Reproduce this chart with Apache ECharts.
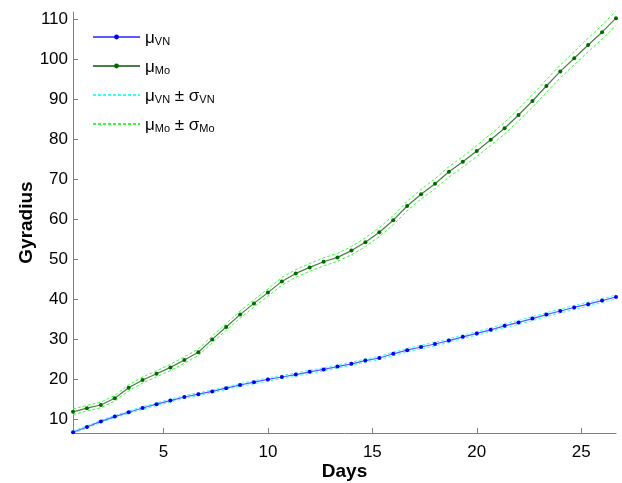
<!doctype html>
<meta charset="utf-8">
<title>Gyradius</title>
<style>
	html, body { margin: 0; padding: 0; background: #fff; }
	#chart { width: 622px; height: 483px; }
</style>
<div id="chart"></div>
<script src="https://cdn.jsdelivr.net/npm/echarts@6/dist/echarts.min.js"></script>
<script>
	// sample times (every 16 hours)
	var days = [0.667, 1.333, 2, 2.667, 3.333, 4, 4.667, 5.333, 6, 6.667,
		7.333, 8, 8.667, 9.333, 10, 10.667, 11.333, 12, 12.667, 13.333,
		14, 14.667, 15.333, 16, 16.667, 17.333, 18, 18.667, 19.333, 20,
		20.667, 21.333, 22, 22.667, 23.333, 24, 24.667, 25.333, 26, 26.667];
	var muVN = [6.7, 8.0, 9.4, 10.6, 11.7, 12.75, 13.7, 14.6, 15.5, 16.2,
		16.9, 17.7, 18.5, 19.2, 19.9, 20.5, 21.1, 21.8, 22.4, 23.1,
		23.8, 24.6, 25.25, 26.3, 27.2, 28.0, 28.75, 29.6, 30.55, 31.4,
		32.3, 33.3, 34.15, 35.1, 36.1, 37.0, 37.9, 38.7, 39.6, 40.5];
	var sdVN = [0.3, 0.3, 0.3, 0.3, 0.3, 0.35, 0.35, 0.35, 0.35, 0.35,
		0.35, 0.35, 0.35, 0.4, 0.4, 0.4, 0.4, 0.4, 0.4, 0.4,
		0.4, 0.4, 0.4, 0.45, 0.45, 0.45, 0.45, 0.45, 0.45, 0.45,
		0.45, 0.5, 0.5, 0.5, 0.5, 0.5, 0.5, 0.5, 0.5, 0.5];
	var muMo = [11.8, 12.7, 13.5, 15.2, 17.8, 19.75, 21.3, 22.9, 24.75, 26.7,
		29.9, 33.0, 36.1, 38.9, 41.6, 44.4, 46.4, 47.9, 49.3, 50.4,
		52.1, 54.2, 56.7, 59.7, 63.25, 66.2, 68.8, 71.8, 74.3, 77.0,
		79.8, 82.7, 86.0, 89.5, 93.25, 96.9, 100.2, 103.5, 106.7, 110.2];
	var sdMo = [0.7, 0.7, 0.7, 0.7, 0.75, 0.75, 0.75, 0.8, 0.8, 0.8,
		0.85, 0.85, 0.9, 0.9, 0.9, 0.95, 0.95, 1.0, 1.0, 1.0,
		1.05, 1.1, 1.1, 1.15, 1.2, 1.2, 1.25, 1.3, 1.3, 1.35,
		1.4, 1.45, 1.5, 1.55, 1.6, 1.6, 1.65, 1.7, 1.75, 1.8];
	var xTicks = [5, 10, 15, 20, 25];
	var yTicks = [10, 20, 30, 40, 50, 60, 70, 80, 90, 100, 110];

	function pairs(ys, sd, sign) {
		return days.map(function (d, i) { return [d, sd ? ys[i] + sign * sd[i] : ys[i]]; });
	}

	var legendText = {
		muVN: '{m|μ}{s|VN}',
		muMo: '{m|μ}{s|Mo}',
		bandVN: '{m|μ}{s|VN}{m| ± σ}{s|VN}',
		bandMo: '{m|μ}{s|Mo}{m| ± σ}{s|Mo}'
	};

	var font = 'Liberation Sans, Arial, sans-serif';
	var axisGray = '#808080';

	var option = {
		animation: false,
		grid: { left: 73, right: 6, top: 12, bottom: 50, outerBoundsMode: 'none' },
		legend: {
			orient: 'vertical',
			left: 92,
			top: 27,
			padding: 0,
			itemWidth: 47,
			itemHeight: 6,
			itemGap: 9,
			data: [
				{ name: 'muVN' },
				{ name: 'muMo' },
				{ name: 'bandVN', itemStyle: { opacity: 0 } },
				{ name: 'bandMo', itemStyle: { opacity: 0 } }
			],
			formatter: function (n) { return legendText[n]; },
			textStyle: {
				fontFamily: font,
				color: '#000',
				rich: {
					m: { fontSize: 17, fontFamily: font, color: '#000', lineHeight: 20, verticalAlign: 'bottom' },
					s: { fontSize: 11, fontFamily: font, color: '#000', lineHeight: 12, padding: [9, 0, 0, 0], verticalAlign: 'bottom' }
				}
			}
		},
		xAxis: {
			type: 'value',
			min: days[0],
			max: days[days.length - 1],
			name: 'Days',
			nameLocation: 'middle',
			nameGap: 29,
			nameMoveOverlap: false,
			nameTextStyle: { fontFamily: font, fontSize: 19, fontWeight: 'bold', color: '#000' },
			axisLine: { lineStyle: { color: axisGray } },
			axisTick: { inside: true, length: 5, lineStyle: { color: axisGray }, customValues: xTicks },
			axisLabel: { fontFamily: font, fontSize: 17, color: '#000', margin: 11, customValues: xTicks },
			splitLine: { show: false }
		},
		yAxis: {
			type: 'value',
			min: 6.5,
			max: 111.75,
			name: 'Gyradius',
			nameLocation: 'middle',
			nameGap: 37,
			nameMoveOverlap: false,
			nameTextStyle: { fontFamily: font, fontSize: 19, fontWeight: 'bold', color: '#000' },
			axisLine: { show: true, lineStyle: { color: axisGray } },
			axisTick: { show: true, inside: true, length: 5, lineStyle: { color: axisGray }, customValues: yTicks },
			axisLabel: { fontFamily: font, fontSize: 17, color: '#000', margin: 5, customValues: yTicks },
			splitLine: { show: false }
		},
		series: [
			{
				name: 'bandVN', type: 'line', data: pairs(muVN, sdVN, 1), symbol: 'none', z: 1,
				lineStyle: { color: '#33ffff', width: 1, type: [3, 2] }, itemStyle: { color: '#33ffff' }
			},
			{
				name: 'bandVN', type: 'line', data: pairs(muVN, sdVN, -1), symbol: 'none', z: 1,
				lineStyle: { color: '#33ffff', width: 1, type: [3, 2] }, itemStyle: { color: '#33ffff' }
			},
			{
				name: 'bandMo', type: 'line', data: pairs(muMo, sdMo, 1), symbol: 'none', z: 1,
				lineStyle: { color: '#33ff33', width: 1, type: [3, 2] }, itemStyle: { color: '#33ff33' }
			},
			{
				name: 'bandMo', type: 'line', data: pairs(muMo, sdMo, -1), symbol: 'none', z: 1,
				lineStyle: { color: '#33ff33', width: 1, type: [3, 2] }, itemStyle: { color: '#33ff33' }
			},
			{
				name: 'muVN', type: 'line', data: pairs(muVN), symbol: 'circle', symbolSize: 4, z: 3,
				lineStyle: { color: '#5a5aff', width: 1.2 }, itemStyle: { color: '#0000ee' }
			},
			{
				name: 'muMo', type: 'line', data: pairs(muMo), symbol: 'circle', symbolSize: 4, z: 3,
				lineStyle: { color: '#4a7f4a', width: 1.2 }, itemStyle: { color: '#006a00' }
			}
		]
	};

	var chart = echarts.init(document.getElementById('chart'));
	chart.setOption(option);
</script>
